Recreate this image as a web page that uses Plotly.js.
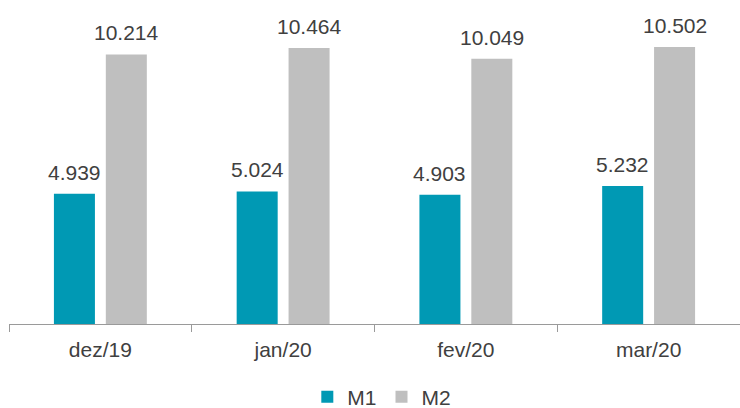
<!DOCTYPE html>
<html>
<head>
<meta charset="utf-8">
<script src="https://cdn.plot.ly/plotly-3.0.1.min.js"></script>
<style>html,body{margin:0;padding:0;background:#fff;}#chart{width:740px;height:408px;}</style>
</head>
<body>
<div id="chart"></div>
<script>
const categories = ["dez/19", "jan/20", "fev/20", "mar/20"];
const m1 = [4.939, 5.024, 4.903, 5.232];
const m2 = [10.214, 10.464, 10.049, 10.502];
const seriesNames = ["M1", "M2"];
const colors = ["#0099B4", "#BFBFBF"];

const fmt = v => v.toFixed(3);
const traces = [m1, m2].map((vals, i) => ({
  type: "bar",
  name: seriesNames[i],
  x: categories,
  y: vals,
  marker: {color: colors[i]},
  hoverinfo: "none"
}));

const annotations = [];
[m1, m2].forEach((vals, i) => {
  vals.forEach((v, j) => {
    annotations.push({
      x: categories[j], y: v, xref: "x", yref: "y",
      text: fmt(v), showarrow: false,
      xshift: i === 0 ? -26 : 26, yshift: 8, yanchor: "bottom",
      font: {family: "Liberation Sans, Arial, sans-serif", size: 21, color: "#404040"}
    });
  });
});

const layout = {
  width: 740, height: 408,
  margin: {l: 9, r: 0, t: 10, b: 84, autoexpand: false},
  paper_bgcolor: "#fff", plot_bgcolor: "#fff",
  barmode: "group", bargap: 0.432, bargroupgap: 0.21,
  font: {family: "Liberation Sans, Arial, sans-serif", size: 21, color: "#404040"},
  xaxis: {
    type: "category", showline: true, linecolor: "#9a9a9a", linewidth: 1,
    ticks: "outside", tickson: "boundaries", ticklen: 7, tickcolor: "#9a9a9a",
    ticklabelstandoff: 7, automargin: false,
    tickfont: {size: 21, color: "#404040"}, showgrid: false, zeroline: false
  },
  yaxis: {range: [0, 11.9], visible: false, showgrid: false, zeroline: false},
  showlegend: true,
  legend: {orientation: "h", x: 0.51, xanchor: "center", yref: "container", y: 0.027, yanchor: "middle",
    font: {size: 21, color: "#404040"}, itemwidth: 30, traceorder: "normal"},
  annotations: annotations
};

Plotly.newPlot("chart", traces, layout, {displayModeBar: false, staticPlot: true});
</script>
</body>
</html>
